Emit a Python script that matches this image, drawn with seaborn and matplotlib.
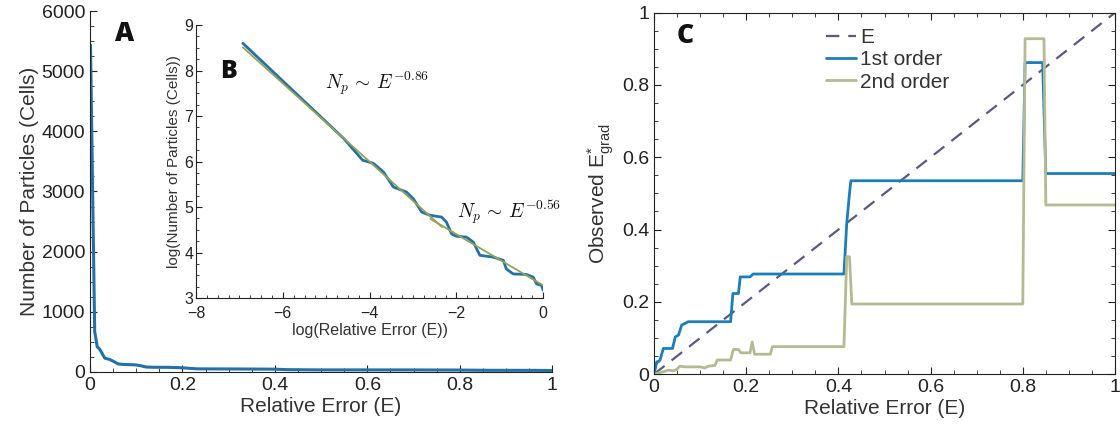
import numpy as np
import pandas as pd
import matplotlib
matplotlib.use("Agg")
import matplotlib.pyplot as plt
from matplotlib.ticker import MultipleLocator, FormatStrFormatter
import seaborn as sns

# ---------------- data ----------------
# Panel B (inset): natural logs of relative error and particle count
logE_b = [-6.92, -4.60, -4.16, -3.91, -3.68, -3.45, -3.15, -2.99, -2.80, -2.61,
          -2.34, -2.23, -2.11, -2.00, -1.77, -1.61, -1.46, -1.15, -0.92, -0.85,
          -0.69, -0.39, -0.23, -0.15, -0.04, 0.0]
logN_b = [8.60, 6.51, 6.03, 5.96, 5.77, 5.44, 5.33, 5.18, 4.89, 4.82,
          4.78, 4.67, 4.41, 4.36, 4.34, 4.23, 3.94, 3.90, 3.83, 3.64,
          3.53, 3.52, 3.46, 3.31, 3.28, 3.17]
fit1_x = [-6.92, -2.33]
fit1_y = [8.51, 4.56]
fit2_x = [-2.60, 0.0]
fit2_y = [4.74, 3.28]

# Panel C
E_line_x = [0.0, 1.0]
E_line_y = [0.0, 1.0]
first_x = [0.0, 0.0058, 0.009, 0.013, 0.020, 0.040, 0.046, 0.053, 0.060, 0.067,
           0.074, 0.166, 0.171, 0.183, 0.187, 0.208, 0.215, 0.412, 0.418, 0.424,
           0.427, 0.800, 0.805, 0.843, 0.850, 1.0]
first_y = [0.0, 0.034, 0.034, 0.039, 0.071, 0.071, 0.103, 0.108, 0.136, 0.140,
           0.145, 0.145, 0.223, 0.223, 0.269, 0.269, 0.277, 0.277, 0.417, 0.500,
           0.535, 0.535, 0.862, 0.862, 0.555, 0.555]
second_x = [0.0, 0.013, 0.031, 0.042, 0.049, 0.056, 0.067, 0.100, 0.110, 0.118,
            0.132, 0.137, 0.166, 0.172, 0.183, 0.188, 0.208, 0.213, 0.218, 0.252,
            0.257, 0.412, 0.418, 0.424, 0.429, 0.800, 0.805, 0.846, 0.850, 1.0]
second_y = [0.0, 0.004, 0.011, 0.009, 0.013, 0.022, 0.020, 0.020, 0.017, 0.022,
            0.024, 0.039, 0.039, 0.068, 0.068, 0.059, 0.059, 0.089, 0.055, 0.055,
            0.076, 0.076, 0.325, 0.325, 0.194, 0.194, 0.928, 0.928, 0.468, 0.468]

# ---------------- style ----------------
sns.set_style("ticks")
plt.rcParams['font.family'] = ['Liberation Sans', 'DejaVu Sans']
plt.rcParams['mathtext.fontset'] = 'cm'
plt.rcParams['xtick.direction'] = 'in'
plt.rcParams['ytick.direction'] = 'in'
plt.rcParams['axes.edgecolor'] = '#222222'
plt.rcParams['xtick.color'] = '#222222'
plt.rcParams['ytick.color'] = '#222222'
plt.rcParams['text.color'] = '#333333'
plt.rcParams['axes.labelcolor'] = '#333333'

BLUE_A = "#2471a8"
BLUE_C = "#1c7db8"
OLIVE = "#b3bb92"
FIT = "#93a356"
DASH = "#5b5a7d"

fig = plt.figure(figsize=(11.2, 4.32), dpi=100)

# ---------------- Panel A ----------------
axA = fig.add_axes([0.0804, 0.139, 0.4126, 0.8355])
dfA = pd.DataFrame({"E": np.exp(logE_b), "N": np.exp(logN_b)})
sns.lineplot(data=dfA, x="E", y="N", ax=axA, color=BLUE_A, lw=2.2,
             estimator=None, sort=False)
axA.set_xlim(0, 1)
axA.set_ylim(0, 6000)
axA.xaxis.set_major_locator(MultipleLocator(0.2))
axA.xaxis.set_minor_locator(MultipleLocator(0.05))
axA.yaxis.set_major_locator(MultipleLocator(1000))
axA.yaxis.set_minor_locator(MultipleLocator(250))
axA.xaxis.set_major_formatter(FormatStrFormatter('%g'))
axA.set_xlabel("Relative Error (E)", fontsize=15, labelpad=2)
axA.set_ylabel("Number of Particles (Cells)", fontsize=15, labelpad=2)
axA.tick_params(which='major', labelsize=14, length=5, width=0.8)
axA.tick_params(which='minor', length=3, width=0.6)
sns.despine(ax=axA)
axA.text(0.055, 0.935, "A", transform=axA.transAxes, fontsize=19,
         fontweight='heavy', family=['Open Sans', 'DejaVu Sans'],
         color='#111111', ha='left', va='center')

# ---------------- Panel B (inset) ----------------
axB = fig.add_axes([0.175, 0.310, 0.310, 0.632])
dfB = pd.DataFrame({"logE": logE_b, "logN": logN_b})
sns.lineplot(data=dfB, x="logE", y="logN", ax=axB, color=BLUE_A, lw=2.0,
             estimator=None, sort=False)
sns.lineplot(x=fit1_x, y=fit1_y, ax=axB, color=FIT, lw=1.3, estimator=None)
sns.lineplot(x=fit2_x, y=fit2_y, ax=axB, color=FIT, lw=1.3, estimator=None)
axB.set_xlim(-8, 0)
axB.set_ylim(3, 9)
axB.xaxis.set_major_locator(MultipleLocator(2))
axB.xaxis.set_minor_locator(MultipleLocator(0.25))
axB.yaxis.set_major_locator(MultipleLocator(1))
axB.yaxis.set_minor_locator(MultipleLocator(0.25))
axB.set_xlabel("log(Relative Error (E))", fontsize=11.5, labelpad=1)
axB.set_ylabel("log(Number of Particles (Cells))", fontsize=11, labelpad=2)
axB.tick_params(which='major', labelsize=11.5, length=4, width=0.8)
axB.tick_params(axis='x', which='major', pad=6)
axB.tick_params(axis='y', which='major', pad=2)
axB.tick_params(which='minor', length=2, width=0.6)
axB.patch.set_alpha(0)
sns.despine(ax=axB)
axB.text(0.07, 0.83, "B", transform=axB.transAxes, fontsize=18,
         fontweight='heavy', family=['Open Sans', 'DejaVu Sans'],
         color='#111111', ha='left', va='center')
axB.text(-5.02, 7.72, r"$N_p\,\sim\,E^{-0.86}$", fontsize=14, color='#111111',
         ha='left', va='center')
axB.text(-1.98, 4.89, r"$N_p\,\sim\,E^{-0.56}$", fontsize=14, color='#111111',
         ha='left', va='center')

# ---------------- Panel C ----------------
axC = fig.add_axes([0.584, 0.134, 0.4115, 0.8366])
sns.lineplot(x=E_line_x, y=E_line_y, ax=axC, color=DASH, lw=1.6,
             dashes=False, linestyle=(0, (6, 4)), label="E", estimator=None)
sns.lineplot(x=first_x, y=first_y, ax=axC, color=BLUE_C, lw=2.0,
             label="1st order", estimator=None, sort=False)
sns.lineplot(x=second_x, y=second_y, ax=axC, color=OLIVE, lw=2.0,
             label="2nd order", estimator=None, sort=False)
axC.set_xlim(0, 1)
axC.set_ylim(0, 1)
for axis in (axC.xaxis, axC.yaxis):
    axis.set_major_locator(MultipleLocator(0.2))
    axis.set_minor_locator(MultipleLocator(0.05))
    axis.set_major_formatter(FormatStrFormatter('%g'))
axC.tick_params(which='both', top=True, right=True)
axC.tick_params(which='major', labelsize=14, length=5, width=0.8)
axC.tick_params(which='minor', length=3, width=0.6)
axC.set_xlabel("Relative Error (E)", fontsize=15, labelpad=2)
axC.set_ylabel(r"Observed $\mathregular{E^{*}_{grad}}$", fontsize=15, labelpad=4)
leg = axC.legend(loc='upper left', bbox_to_anchor=(0.355, 0.98), frameon=False,
                 fontsize=15, handlelength=1.45, handletextpad=0.2,
                 labelspacing=0.15, borderaxespad=0)
axC.text(0.05, 0.935, "C", transform=axC.transAxes, fontsize=19,
         fontweight='heavy', family=['Open Sans', 'DejaVu Sans'],
         color='#111111', ha='left', va='center')

fig.savefig("out.png", dpi=100)
